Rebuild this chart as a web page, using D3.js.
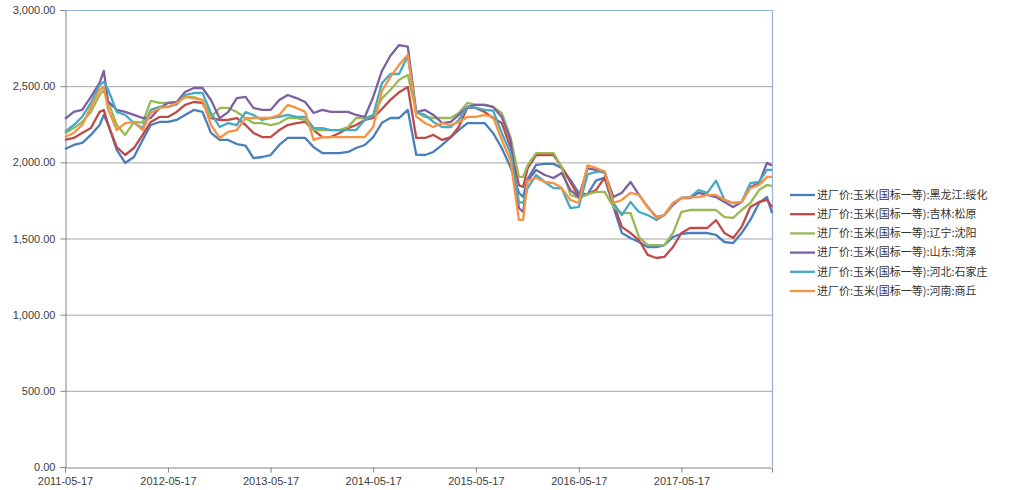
<!DOCTYPE html>
<html>
<head>
<meta charset="utf-8">
<script src="https://cdn.jsdelivr.net/npm/d3@7"></script>
<style>
  html, body { margin: 0; padding: 0; background: #fff; }
  svg { display: block; }
</style>
</head>
<body>
<svg id="chart" width="1010" height="490"></svg>
<script>
// dates (monthly, plus a couple of extra points around sharp moves)
const dates = [
  "2011-05-17","2011-06-17","2011-07-17","2011-08-17","2011-09-17","2011-10-02","2011-10-17","2011-11-17","2011-12-17",
  "2012-01-17","2012-02-17","2012-03-17","2012-04-17","2012-05-17","2012-06-17","2012-07-17","2012-08-17","2012-09-17",
  "2012-10-17","2012-11-17","2012-12-17","2013-01-17","2013-02-17","2013-03-17","2013-04-17","2013-05-17","2013-06-17",
  "2013-07-17","2013-08-17","2013-09-17","2013-10-17","2013-11-17","2013-12-17","2014-01-17","2014-02-17","2014-03-17",
  "2014-04-17","2014-05-17","2014-06-17","2014-07-17","2014-08-17","2014-09-17","2014-10-17","2014-11-17","2014-12-17",
  "2015-01-17","2015-02-17","2015-03-17","2015-04-17","2015-05-17","2015-06-17","2015-07-17","2015-08-17","2015-09-17",
  "2015-10-17","2015-11-01","2015-11-17","2015-12-17","2016-01-17","2016-02-17","2016-03-17","2016-04-17","2016-05-17",
  "2016-06-17","2016-07-17","2016-08-17","2016-09-17","2016-10-17","2016-11-17","2016-12-17","2017-01-17","2017-02-17",
  "2017-03-17","2017-04-17","2017-05-17","2017-06-17","2017-07-17","2017-08-17","2017-09-17","2017-10-17","2017-11-17",
  "2017-12-17","2018-01-17","2018-02-17","2018-03-17","2018-04-04"
];

const seriesNames = [
  "进厂价:玉米(国标一等):黑龙江:绥化",
  "进厂价:玉米(国标一等):吉林:松原",
  "进厂价:玉米(国标一等):辽宁:沈阳",
  "进厂价:玉米(国标一等):山东:菏泽",
  "进厂价:玉米(国标一等):河北:石家庄",
  "进厂价:玉米(国标一等):河南:商丘"
];

const heilongjiang = [
  2088,2114,2127,2180,2245,2311,2250,2081,1996,2035,2147,2245,2265,2265,2278,2311,2344,2331,
  2193,2147,2147,2120,2110,2028,2035,2048,2114,2160,2160,2160,2100,2061,2061,2061,2068,2094,
  2114,2166,2260,2291,2291,2344,2050,2048,2068,2114,2166,2212,2258,2258,2258,2193,2094,1970,
  1800,1772,1890,1983,1990,1990,1963,1884,1800,1790,1880,1900,1707,1536,1503,1477,1444,1444,
  1457,1510,1530,1536,1536,1536,1523,1477,1470,1536,1622,1733,1772,1667
];
const jilin = [
  2147,2160,2193,2225,2331,2344,2250,2100,2048,2094,2180,2265,2298,2298,2331,2377,2396,2390,
  2291,2278,2278,2291,2245,2193,2166,2166,2212,2245,2258,2265,2212,2166,2166,2193,2225,2245,
  2278,2291,2350,2410,2460,2495,2160,2160,2180,2147,2166,2232,2360,2357,2331,2291,2258,2100,
  1850,1838,1960,2048,2048,2048,1970,1871,1772,1790,1818,1900,1733,1576,1536,1490,1392,1372,
  1379,1444,1536,1569,1569,1569,1620,1536,1503,1576,1707,1740,1753,1707
];
const liaoning = [
  2190,2225,2265,2331,2442,2475,2400,2245,2180,2265,2260,2403,2390,2390,2390,2429,2429,2409,
  2298,2357,2357,2330,2290,2258,2258,2245,2258,2291,2291,2278,2212,2212,2212,2212,2232,2291,
  2291,2311,2420,2475,2541,2573,2330,2298,2291,2291,2291,2324,2390,2377,2377,2364,2324,2166,
  1904,1904,1980,2061,2061,2061,1970,1786,1766,1790,1806,1806,1707,1667,1667,1510,1457,1457,
  1457,1536,1674,1687,1687,1687,1687,1641,1635,1687,1733,1818,1851,1845
];
const shandong = [
  2285,2331,2344,2429,2521,2600,2400,2344,2331,2311,2291,2291,2357,2390,2396,2462,2488,2488,
  2409,2290,2330,2422,2430,2357,2344,2344,2409,2442,2422,2396,2324,2344,2331,2331,2331,2311,
  2298,2429,2600,2700,2770,2760,2330,2344,2311,2258,2265,2311,2364,2377,2377,2364,2298,2147,
  1700,1674,1880,1950,1917,1897,1930,1818,1772,1960,1950,1930,1772,1800,1871,1786,1707,1641,
  1654,1720,1766,1766,1800,1786,1772,1740,1707,1740,1838,1864,1996,1980
];
const hebei = [
  2200,2245,2298,2390,2508,2528,2480,2331,2311,2258,2225,2344,2364,2364,2380,2442,2455,2455,
  2324,2232,2258,2245,2330,2311,2278,2291,2298,2311,2298,2298,2225,2225,2212,2212,2212,2212,
  2278,2311,2520,2580,2580,2700,2330,2311,2265,2232,2232,2278,2364,2357,2344,2340,2193,2061,
  1740,1733,1830,1917,1871,1831,1830,1700,1707,1920,1937,1940,1733,1654,1740,1674,1654,1622,
  1654,1733,1766,1772,1818,1800,1880,1753,1733,1740,1864,1871,1950,1950
];
const henan = [
  2166,2193,2245,2364,2475,2495,2350,2212,2258,2265,2212,2324,2357,2364,2390,2429,2422,2409,
  2245,2160,2200,2212,2290,2291,2291,2291,2311,2377,2357,2331,2147,2166,2166,2166,2166,2166,
  2166,2232,2470,2560,2640,2705,2300,2258,2232,2258,2245,2265,2298,2298,2311,2298,2147,2015,
  1622,1622,1880,1897,1871,1864,1831,1753,1733,1980,1963,1940,1733,1753,1800,1786,1707,1635,
  1654,1733,1766,1770,1772,1786,1786,1753,1733,1740,1831,1851,1904,1904
];

const colors = ["#4a7ebb", "#be4b48", "#98b954", "#7d60a0", "#46aac5", "#f69240"];
const yTicks = [0, 500, 1000, 1500, 2000, 2500, 3000];
const xTicks = ["2011-05-17","2012-05-17","2013-05-17","2014-05-17","2015-05-17","2016-05-17","2017-05-17"];

const parse = d3.timeParse("%Y-%m-%d");
const allSeries = [heilongjiang, jilin, liaoning, shandong, hebei, henan];

const svg = d3.select("#chart");
const plot = { left: 65, right: 772, top: 10, bottom: 467 };

const x = d3.scaleTime()
  .domain([parse("2011-05-17"), parse("2018-04-04")])
  .range([plot.left, plot.right]);
const y = d3.scaleLinear().domain([0, 3000]).range([plot.bottom, plot.top]);

// gridlines
svg.append("g").selectAll("line").data(yTicks.slice(1, -1)).join("line")
  .attr("x1", plot.left).attr("x2", plot.right)
  .attr("y1", d => y(d) + 0.5).attr("y2", d => y(d) + 0.5)
  .attr("stroke", "#a6a6a6").attr("stroke-width", 1);

// plot border top / right (light blue)
svg.append("path")
  .attr("d", `M${plot.left},${plot.top + 0.5}H${plot.right + 0.5}V${plot.bottom}`)
  .attr("fill", "none").attr("stroke", "#95b3d7").attr("stroke-width", 1.2);

// y axis
const yAxis = svg.append("g")
  .attr("transform", `translate(${plot.left + 0.5},0)`)
  .call(d3.axisLeft(y).tickValues(yTicks).tickSize(5).tickPadding(5)
    .tickFormat(d3.format(",.2f")));
yAxis.select(".domain").attr("stroke", "#868686");
yAxis.selectAll(".tick line").attr("stroke", "#868686");
yAxis.selectAll("text")
  .attr("font-family", "Liberation Sans, Arial, sans-serif")
  .attr("font-size", 11).attr("fill", "#404040");

// x axis
const xAxis = svg.append("g")
  .attr("transform", `translate(0,${plot.bottom + 0.5})`)
  .call(d3.axisBottom(x).tickValues(xTicks.map(parse)).tickSize(5).tickPadding(5)
    .tickFormat(d3.timeFormat("%Y-%m-%d")));
xAxis.select(".domain").attr("stroke", "#868686");
xAxis.selectAll(".tick line").attr("stroke", "#868686");
xAxis.selectAll("text")
  .attr("font-family", "Liberation Sans, Arial, sans-serif")
  .attr("font-size", 11).attr("fill", "#404040");

// lines
const line = d3.line()
  .x((d, i) => x(parse(dates[i])))
  .y(d => y(d))
  .curve(d3.curveLinear);

svg.append("g").selectAll("path").data(allSeries).join("path")
  .attr("d", d => line(d))
  .attr("fill", "none")
  .attr("stroke", (d, i) => colors[i])
  .attr("stroke-width", 2.3)
  .attr("stroke-linejoin", "round");

// legend
const legend = svg.append("g").selectAll("g").data(seriesNames).join("g")
  .attr("transform", (d, i) => `translate(790,${195 + i * 19.2})`);
legend.append("line")
  .attr("x1", 0).attr("x2", 25).attr("y1", 0).attr("y2", 0)
  .attr("stroke", (d, i) => colors[i]).attr("stroke-width", 2.3);
legend.append("text")
  .attr("x", 27).attr("y", 0).attr("dy", "0.35em")
  .attr("font-family", "Noto Sans CJK SC, sans-serif")
  .attr("font-size", 11).attr("fill", "#333")
  .text(d => d);
</script>
</body>
</html>
